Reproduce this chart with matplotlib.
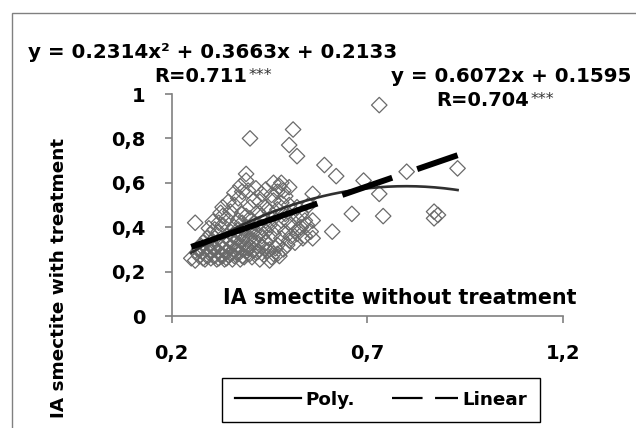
import numpy as np
import matplotlib
matplotlib.use("Agg")
import matplotlib.pyplot as plt
from matplotlib.patches import Rectangle
from matplotlib.lines import Line2D

plt.rcParams['font.family'] = ['DejaVu Sans']
plt.rcParams['font.weight'] = 'bold'
plt.rcParams['lines.scale_dashes'] = False

# scatter values (without treatment, with treatment)
x_pts = [0.25, 0.26, 0.27, 0.28, 0.28, 0.29, 0.29, 0.30, 0.30, 0.30, 0.31, 0.31, 0.31,
         0.32, 0.32, 0.32, 0.32, 0.33, 0.33, 0.33, 0.33, 0.34, 0.34, 0.34, 0.34, 0.34,
         0.35, 0.35, 0.35, 0.35, 0.35, 0.36, 0.36, 0.36, 0.36, 0.36, 0.36, 0.37, 0.37,
         0.37, 0.37, 0.37, 0.37, 0.38, 0.38, 0.38, 0.38, 0.38, 0.38, 0.38, 0.39, 0.39,
         0.39, 0.39, 0.39, 0.39, 0.39, 0.40, 0.40, 0.40, 0.40, 0.40, 0.40, 0.40, 0.41,
         0.41, 0.41, 0.41, 0.41, 0.42, 0.42, 0.42, 0.42, 0.42, 0.43, 0.43, 0.43, 0.43,
         0.43, 0.44, 0.44, 0.44, 0.44, 0.44, 0.45, 0.45, 0.45, 0.45, 0.45, 0.46, 0.46,
         0.46, 0.46, 0.46, 0.47, 0.47, 0.47, 0.47, 0.48, 0.48, 0.48, 0.48, 0.49, 0.49,
         0.49, 0.50, 0.50, 0.50, 0.50, 0.50, 0.51, 0.51, 0.51, 0.52, 0.52, 0.52, 0.52,
         0.53, 0.53, 0.54, 0.54, 0.55, 0.56, 0.56, 0.56, 0.59, 0.62, 0.61, 0.66, 0.69,
         0.73, 0.73, 0.74, 0.80, 0.87, 0.87, 0.88, 0.93, 0.26, 0.33, 0.27, 0.28, 0.29,
         0.30, 0.31, 0.32, 0.33, 0.47,
         0.265, 0.275, 0.285, 0.295, 0.305, 0.315, 0.325, 0.335, 0.345, 0.355, 0.365,
         0.375, 0.385, 0.395, 0.405, 0.415, 0.425, 0.435, 0.445, 0.455, 0.465, 0.475,
         0.485, 0.495, 0.505, 0.515, 0.525, 0.535, 0.545, 0.555, 0.36, 0.375, 0.415,
         0.425, 0.455, 0.475, 0.485, 0.395, 0.345, 0.325, 0.305, 0.295]
y_pts = [0.26, 0.25, 0.27, 0.26, 0.29, 0.27, 0.31, 0.26, 0.29, 0.33, 0.27, 0.30, 0.35,
         0.26, 0.29, 0.32, 0.38, 0.27, 0.30, 0.34, 0.41, 0.26, 0.29, 0.32, 0.36, 0.44,
         0.28, 0.31, 0.34, 0.38, 0.47, 0.27, 0.30, 0.33, 0.36, 0.40, 0.50, 0.28, 0.31,
         0.35, 0.39, 0.43, 0.53, 0.27, 0.30, 0.34, 0.37, 0.42, 0.46, 0.56, 0.29, 0.33,
         0.36, 0.40, 0.45, 0.61, 0.64, 0.28, 0.31, 0.35, 0.39, 0.44, 0.49, 0.80, 0.30,
         0.34, 0.38, 0.42, 0.52, 0.29, 0.33, 0.37, 0.41, 0.47, 0.31, 0.36, 0.40, 0.45,
         0.55, 0.33, 0.38, 0.43, 0.49, 0.57, 0.25, 0.30, 0.35, 0.41, 0.47, 0.28, 0.37,
         0.44, 0.52, 0.60, 0.32, 0.40, 0.48, 0.56, 0.35, 0.43, 0.51, 0.60, 0.38, 0.46,
         0.54, 0.34, 0.42, 0.50, 0.58, 0.77, 0.84, 0.40, 0.47, 0.72, 0.37, 0.44, 0.49,
         0.40, 0.46, 0.36, 0.43, 0.50, 0.55, 0.43, 0.35, 0.68, 0.63, 0.38, 0.46, 0.61,
         0.95, 0.55, 0.45, 0.65, 0.47, 0.44, 0.455, 0.665, 0.42, 0.49, 0.30, 0.33, 0.35,
         0.37, 0.39, 0.42, 0.45, 0.28,
         0.285, 0.315, 0.255, 0.285, 0.305, 0.255, 0.275, 0.255, 0.275, 0.255, 0.285,
         0.255, 0.265, 0.305, 0.265, 0.285, 0.255, 0.275, 0.295, 0.265, 0.305, 0.27,
         0.30, 0.32, 0.36, 0.33, 0.39, 0.35, 0.41, 0.38, 0.555, 0.585, 0.575,
         0.515, 0.545, 0.585, 0.565, 0.565, 0.515, 0.465, 0.425, 0.395]

# trend lines as drawn (quadratic, linear from the label)
poly_coef = [-0.997, 1.592, -0.0508]
lin_coef = [0.6072, 0.1595]
fit_range = [0.25, 0.93]

x_ticks = [0.2, 0.7, 1.2]
x_ticklabels = ['0,2', '0,7', '1,2']
y_ticks = [0, 0.2, 0.4, 0.6, 0.8, 1]
y_ticklabels = ['0', '0,2', '0,4', '0,6', '0,8', '1']

W, H = 636, 428


def px(x, y):
    return x / W, 1 - y / H


fig = plt.figure(figsize=(6.36, 4.28), dpi=100)
ax = fig.add_axes([171.7 / W, 112 / H, (563.3 - 171.7) / W, 222 / H])

ax.scatter(x_pts, y_pts, marker='D', s=62, facecolors='none',
           edgecolors='#6a6a6a', linewidths=0.9, zorder=2)

xf = np.linspace(fit_range[0], fit_range[1], 200)
ax.plot(xf, np.polyval(poly_coef, xf), color='#303030', lw=1.9, zorder=3)
ax.plot(xf, np.polyval(lin_coef, xf), color='black', lw=4.3,
        linestyle=(0, (96, 19, 38, 19, 80, 19)), dash_capstyle='butt', zorder=4)

ax.set_xlim(0.2, 1.2)
ax.set_ylim(0, 1)
ax.set_xticks(x_ticks)
ax.set_xticklabels(x_ticklabels)
ax.set_yticks(y_ticks)
ax.set_yticklabels(y_ticklabels)
for s in ['top', 'right']:
    ax.spines[s].set_visible(False)
for s in ['left', 'bottom']:
    ax.spines[s].set_color('#808080')
    ax.spines[s].set_linewidth(1.2)
ax.tick_params(axis='y', direction='out', length=5, width=1.2, color='#808080',
               pad=14, labelsize=14)
ax.tick_params(axis='x', direction='out', length=5, width=1.2, color='#808080',
               pad=15, labelsize=14)
ax.patch.set_visible(False)

# labels
fig.text(*px(223, 298), 'IA smectite without treatment', ha='left', va='center',
         fontsize=14.9, fontweight='bold')
fig.text(*px(59, 278), 'IA smectite with treatment', ha='center', va='center',
         rotation=90, fontsize=13.2, fontweight='bold')

# equations
fig.text(*px(28, 53), 'y = 0.2314x² + 0.3663x + 0.2133', ha='left', va='center',
         fontsize=14.3, fontweight='bold')
r1 = fig.text(*px(154, 77), 'R=0.711', ha='left', va='center', fontsize=14,
              fontweight='bold')
fig.text(*px(391, 77), 'y = 0.6072x + 0.1595', ha='left', va='center',
         fontsize=14.3, fontweight='bold')
r2 = fig.text(*px(436, 101), 'R=0.704', ha='left', va='center', fontsize=14,
              fontweight='bold')
for r in (r1, r2):
    ax.annotate('***', xy=(1, 0.98), xycoords=r, xytext=(1, 0), textcoords='offset points',
                ha='left', va='top', fontsize=11.5, fontweight='normal', color='#333333')

# legend
handles = [Line2D([], [], color='black', lw=1.6),
           Line2D([], [], color='black', lw=1.6, linestyle=(0, (22, 9)))]
leg = fig.legend(handles, ['Poly.', 'Linear'], ncol=2,
                 loc='upper left', bbox_to_anchor=px(222, 378),
                 borderaxespad=0, fontsize=13.2, handlelength=3.6,
                 handletextpad=0.25, columnspacing=2.0, fancybox=False,
                 framealpha=1, borderpad=0.7)
leg.get_frame().set_edgecolor('black')
leg.get_frame().set_linewidth(1.0)

# outer chart border
fig.patches.append(Rectangle((11.5 / W, -0.1), 1.0, 1.1 - 13.5 / H, transform=fig.transFigure,
                             fill=False, edgecolor='#808080', lw=1.0))

fig.savefig('out.png', dpi=100)
